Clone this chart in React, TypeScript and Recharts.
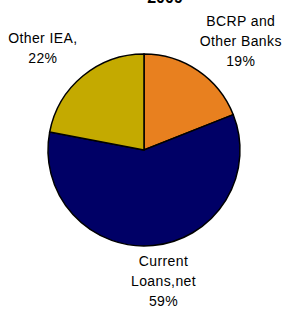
import React from "react";
import { PieChart, Pie, Cell } from "recharts";

// 2009 breakdown of interest earning assets
const categories = ["BCRP and\nOther Banks", "Current\nLoans,net", "Other IEA,"];
const shares = [19, 59, 22];
const colors = ["#E8801F", "#000066", "#C4AA00"];
const title = "2009";

const data = categories.map((name, i) => ({ name, value: shares[i] }));

const FONT = "'Liberation Sans', Arial, sans-serif";
const RAD = Math.PI / 180;

function renderLabel(props: any) {
  const { cx, cy, midAngle, index } = props;
  // labels sit on an ellipse around the pie, like the spreadsheet layout
  const x = cx + 4 + 165 * Math.cos(-midAngle * RAD);
  const y = cy + 132 * Math.sin(-midAngle * RAD);
  const lines = [...categories[index].split("\n"), `${shares[index]}%`];
  const lh = 20;
  const top = y - ((lines.length - 1) * lh) / 2;
  return (
    <text
      x={x}
      y={top}
      textAnchor="middle"
      dominantBaseline="central"
      fontFamily={FONT}
      fontSize={14}
      letterSpacing={0.4}
      fill="#000"
    >
      {lines.map((l, i) => (
        <tspan key={i} x={x} y={top + i * lh}>
          {l}
        </tspan>
      ))}
    </text>
  );
}

export default function App() {
  return (
    <div style={{ position: "absolute", left: 0, top: 0, width: 284, height: 309, background: "#fff" }}>
      <PieChart width={284} height={309} margin={{ top: 0, right: 0, bottom: 0, left: 0 }}>
        <text x={165} y={3} textAnchor="middle" fontFamily={FONT} fontSize={16} fontWeight="bold" fill="#000">
          {title}
        </text>
        <Pie
          data={data}
          dataKey="value"
          nameKey="name"
          cx={144}
          cy={150}
          outerRadius={96}
          startAngle={90}
          endAngle={-270}
          stroke="#000"
          strokeWidth={1.5}
          label={renderLabel}
          labelLine={false}
          isAnimationActive={false}
        >
          {data.map((d, i) => (
            <Cell key={d.name} fill={colors[i]} />
          ))}
        </Pie>
      </PieChart>
    </div>
  );
}
